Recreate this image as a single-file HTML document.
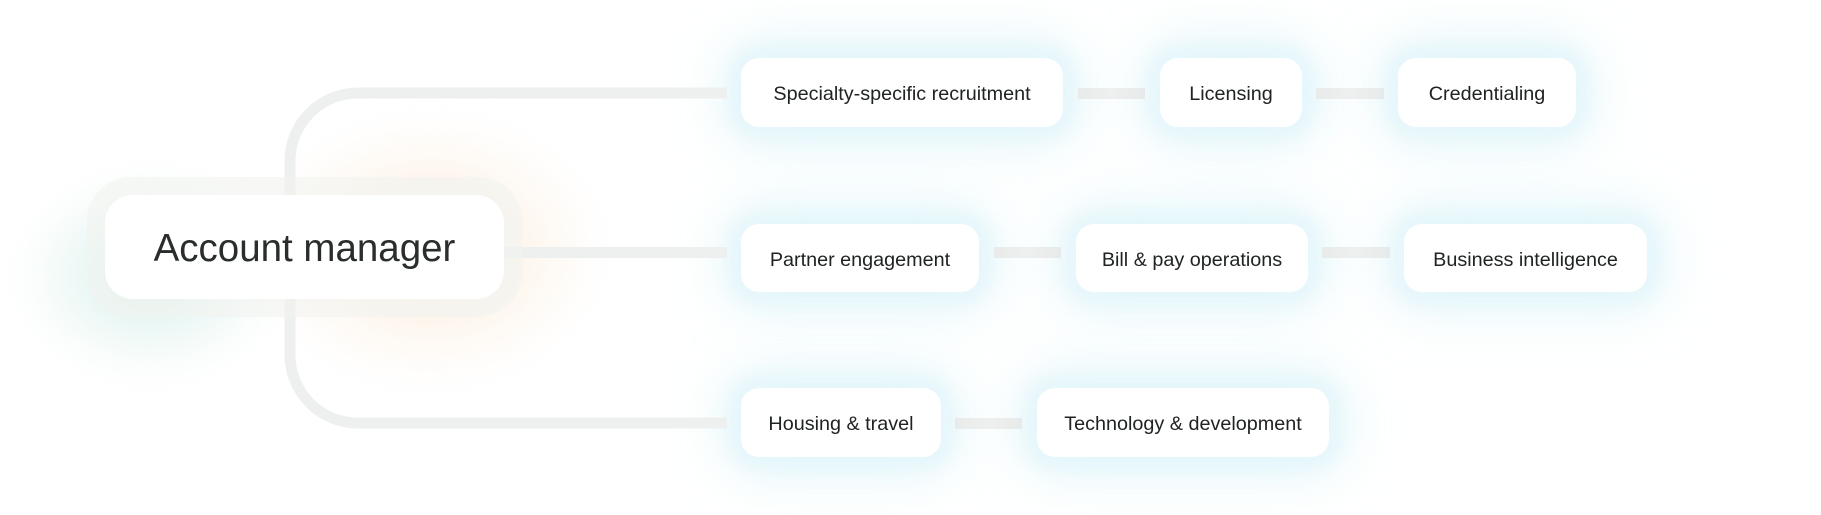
<!DOCTYPE html>
<html>
<head>
<meta charset="utf-8">
<style>
  html,body{margin:0;padding:0;background:#ffffff;}
  body{width:1821px;height:515px;position:relative;overflow:hidden;font-family:"Liberation Sans",sans-serif;}
  .glow{position:absolute;border-radius:24px;box-shadow:0 0 48px 20px rgba(212,241,248,0.6);background:rgba(220,243,249,0.5);}
  .halo{position:absolute;border-radius:32px;background:rgba(236,248,251,0.5);filter:blur(6px);}
  .node{position:absolute;background:#ffffff;border-radius:18px;display:flex;align-items:center;justify-content:center;color:#202323;font-size:19.8px;white-space:nowrap;box-sizing:border-box;padding-top:4px;}
  .conn{position:absolute;height:11px;background:linear-gradient(90deg,#e9ebeb,#eef0ef 50%,#e7eaea);}
  svg{position:absolute;left:0;top:0;}
</style>
</head>
<body>

<!-- Account manager glows -->
<div style="position:absolute;left:20px;top:175px;width:260px;height:200px;border-radius:50%;background:radial-gradient(ellipse at center, rgba(196,232,224,0.7) 0%, rgba(212,238,232,0.35) 45%, rgba(255,255,255,0) 72%);filter:blur(16px);"></div>
<div style="position:absolute;left:260px;top:120px;width:340px;height:260px;border-radius:50%;background:radial-gradient(ellipse at center, rgba(250,226,200,0.7) 0%, rgba(252,234,214,0.35) 45%, rgba(255,255,255,0) 72%);filter:blur(16px);"></div>

<!-- child node glows -->
<div class="halo" style="left:727px;top:44px;width:350px;height:97px;"></div>
<div class="glow" style="left:741px;top:58px;width:322px;height:69px;"></div>
<div class="halo" style="left:1146px;top:44px;width:170px;height:97px;"></div>
<div class="glow" style="left:1160px;top:58px;width:142px;height:69px;"></div>
<div class="halo" style="left:1384px;top:44px;width:206px;height:97px;"></div>
<div class="glow" style="left:1398px;top:58px;width:178px;height:69px;"></div>

<div class="halo" style="left:727px;top:210px;width:266px;height:96px;"></div>
<div class="glow" style="left:741px;top:224px;width:238px;height:68px;"></div>
<div class="halo" style="left:1062px;top:210px;width:260px;height:96px;"></div>
<div class="glow" style="left:1076px;top:224px;width:232px;height:68px;"></div>
<div class="halo" style="left:1390px;top:210px;width:271px;height:96px;"></div>
<div class="glow" style="left:1404px;top:224px;width:243px;height:68px;"></div>

<div class="halo" style="left:727px;top:374px;width:228px;height:97px;"></div>
<div class="glow" style="left:741px;top:388px;width:200px;height:69px;"></div>
<div class="halo" style="left:1023px;top:374px;width:320px;height:97px;"></div>
<div class="glow" style="left:1037px;top:388px;width:292px;height:69px;"></div>

<!-- main bracket lines -->
<svg width="1821" height="515" viewBox="0 0 1821 515">
  <path d="M 727 93 H 358 A 68 68 0 0 0 290 161 V 355 A 68 68 0 0 0 358 423 H 727" fill="none" stroke="#eef0ef" stroke-width="11"/>
  <path d="M 480 252.5 H 727" fill="none" stroke="#eef0ef" stroke-width="11"/>
</svg>

<!-- Account manager ring + box -->
<div style="position:absolute;left:87px;top:177px;width:435px;height:140px;border-radius:44px;background:rgba(242,244,240,0.6);"></div>
<div style="position:absolute;left:105px;top:195px;width:399px;height:104px;border-radius:28px;background:#ffffff;display:flex;align-items:center;justify-content:center;color:#2a2d2d;font-size:38.5px;box-sizing:border-box;padding-top:4px;">Account manager</div>

<!-- connectors between nodes -->
<div class="conn" style="left:1078px;top:87.5px;width:67px;"></div>
<div class="conn" style="left:1316px;top:87.5px;width:68px;"></div>
<div class="conn" style="left:994px;top:247px;width:67px;"></div>
<div class="conn" style="left:1322px;top:247px;width:68px;"></div>
<div class="conn" style="left:955px;top:417.5px;width:67px;"></div>

<!-- nodes -->
<div class="node" style="left:741px;top:58px;width:322px;height:69px;">Specialty-specific recruitment</div>
<div class="node" style="left:1160px;top:58px;width:142px;height:69px;">Licensing</div>
<div class="node" style="left:1398px;top:58px;width:178px;height:69px;">Credentialing</div>

<div class="node" style="left:741px;top:224px;width:238px;height:68px;">Partner engagement</div>
<div class="node" style="left:1076px;top:224px;width:232px;height:68px;">Bill &amp; pay operations</div>
<div class="node" style="left:1404px;top:224px;width:243px;height:68px;">Business intelligence</div>

<div class="node" style="left:741px;top:388px;width:200px;height:69px;">Housing &amp; travel</div>
<div class="node" style="left:1037px;top:388px;width:292px;height:69px;">Technology &amp; development</div>

</body>
</html>
